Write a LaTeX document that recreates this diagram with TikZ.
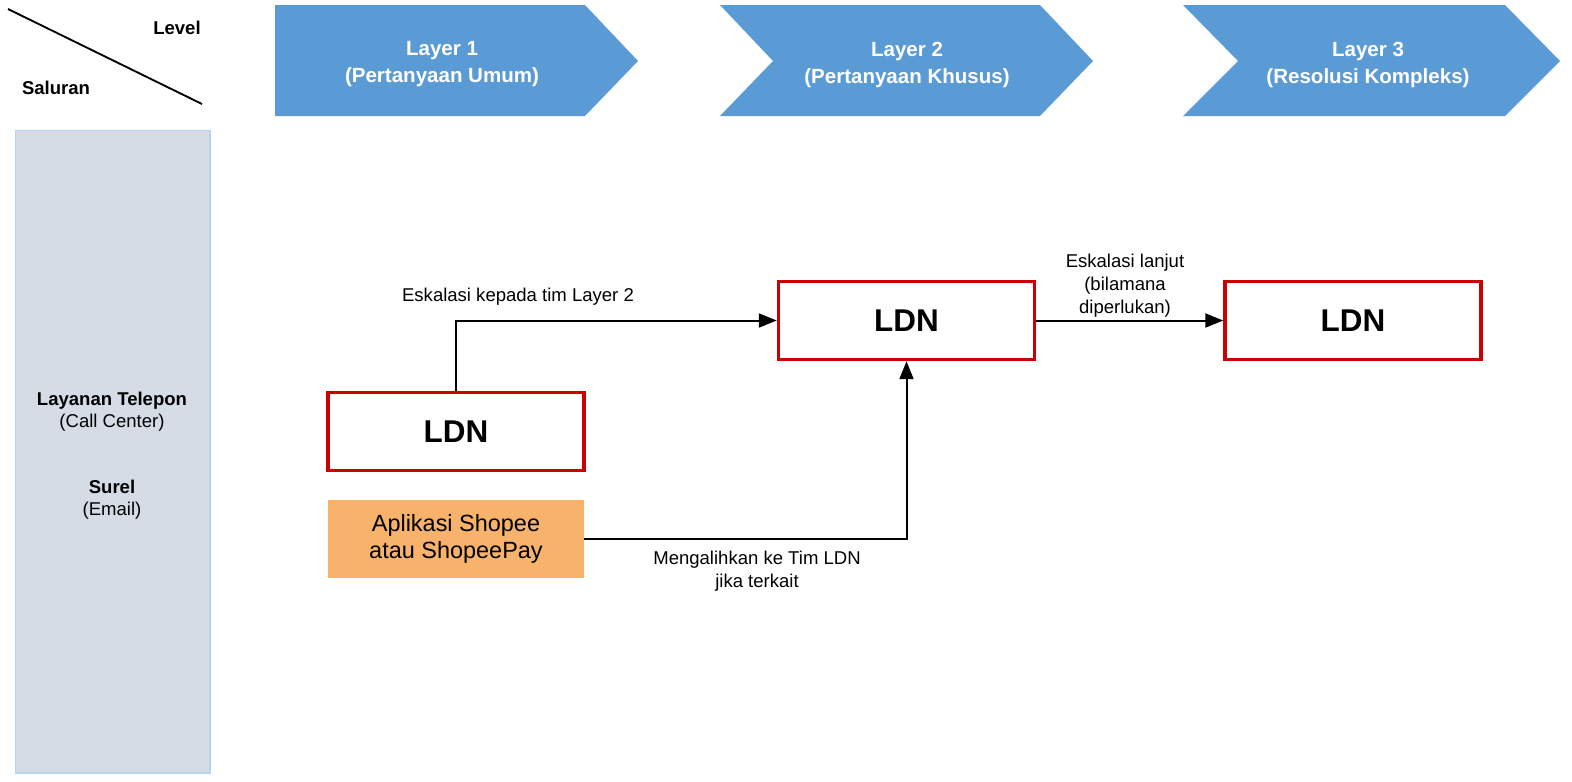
\documentclass[tikz,border=0pt]{standalone}
\usepackage{fontspec}
\setmainfont{Liberation Sans}
\usetikzlibrary{arrows.meta}
\definecolor{chev}{HTML}{5B9BD5}
\definecolor{ldnred}{HTML}{CC0000}
\definecolor{orangebox}{HTML}{F7B26B}
\definecolor{grayfill}{HTML}{D5DCE6}
\definecolor{grayedge}{HTML}{B7D3EE}
\begin{document}
\begin{tikzpicture}[x=0.75pt,y=-0.75pt,
  smalltext/.style={font=\fontsize{13.9}{17.25}\selectfont, align=center, inner sep=0pt},
  chevtext/.style={font=\bfseries\fontsize{15.4}{20.2}\selectfont, text=white, align=center, inner sep=0pt},
  ldnbox/.style={draw=ldnred, line width=2.6pt, fill=white, minimum width=192pt, minimum height=58.5pt, inner sep=0pt, font=\bfseries\fontsize{23.6}{28}\selectfont},
  appbox/.style={fill=orangebox, minimum width=192pt, minimum height=58.5pt, inner sep=0pt, align=center, font=\fontsize{17.6}{20.2}\selectfont},
  flow/.style={draw=black, line width=1.5pt, -{Triangle[length=13.5pt,width=10.5pt]}}
]
\useasboundingbox (0,0) rectangle (1572,782);

% header corner
\coordinate (dA) at (8,9);
\coordinate (dB) at (202,104);
\draw[line width=1.4pt] (dA) -- (dB);
\node[smalltext, font=\bfseries\fontsize{13.9}{17.25}\selectfont] (level) at (177,28) {Level};
\node[smalltext, font=\bfseries\fontsize{13.9}{17.25}\selectfont] (saluran) at (56,88) {Saluran};

% chevrons
\fill[chev] (275,5) -- (585,5) -- (638,61) -- (585,116) -- (275,116) -- cycle;
\fill[chev] (720,5) -- (1040,5) -- (1093,61) -- (1040,116) -- (720,116) -- (773,61) -- cycle;
\fill[chev] (1183,5) -- (1505,5) -- (1560,61) -- (1505,116) -- (1183,116) -- (1238,61) -- cycle;
\node[chevtext] (l1) at (442,64.5) {Layer 1\\(Pertanyaan Umum)};
\node[chevtext] (l2) at (907,64.5) {Layer 2\\(Pertanyaan Khusus)};
\node[chevtext] (l3) at (1368,64.5) {Layer 3\\(Resolusi Kompleks)};

% channel column
\node[fill=grayfill, draw=grayedge, line width=1pt, minimum width=146pt, minimum height=482pt, inner sep=0pt] (col) at (112.5,451.5) {};
\node[smalltext, font=\fontsize{13.9}{16.5}\selectfont] (tel) at (112,412) {\textbf{Layanan Telepon}\\(Call Center)};
\node[smalltext, font=\fontsize{13.9}{16.5}\selectfont] (mail) at (112,500) {\textbf{Surel}\\(Email)};

% boxes
\node[ldnbox] (ldn1) at (456,431.5) {LDN};
\node[ldnbox] (ldn2) at (906.5,320.5) {LDN};
\node[ldnbox] (ldn3) at (1353,320.5) {LDN};
\node[appbox] (app) at (456,538.5) {Aplikasi Shopee\\atau ShopeePay};

% connectors
\draw[flow] (ldn1.north) |- (ldn2.west);
\draw[flow] (app.east) -| (ldn2.south);
\draw[flow] (ldn2.east) -- (ldn3.west);

% labels
\node[smalltext] (lab1) at (518,296.5) {Eskalasi kepada tim Layer 2};
\node[smalltext] (lab2) at (757,571.5) {Mengalihkan ke Tim LDN\\jika terkait};
\node[smalltext] (lab3) at (1125,285.5) {Eskalasi lanjut\\(bilamana\\diperlukan)};
\end{tikzpicture}
\end{document}
